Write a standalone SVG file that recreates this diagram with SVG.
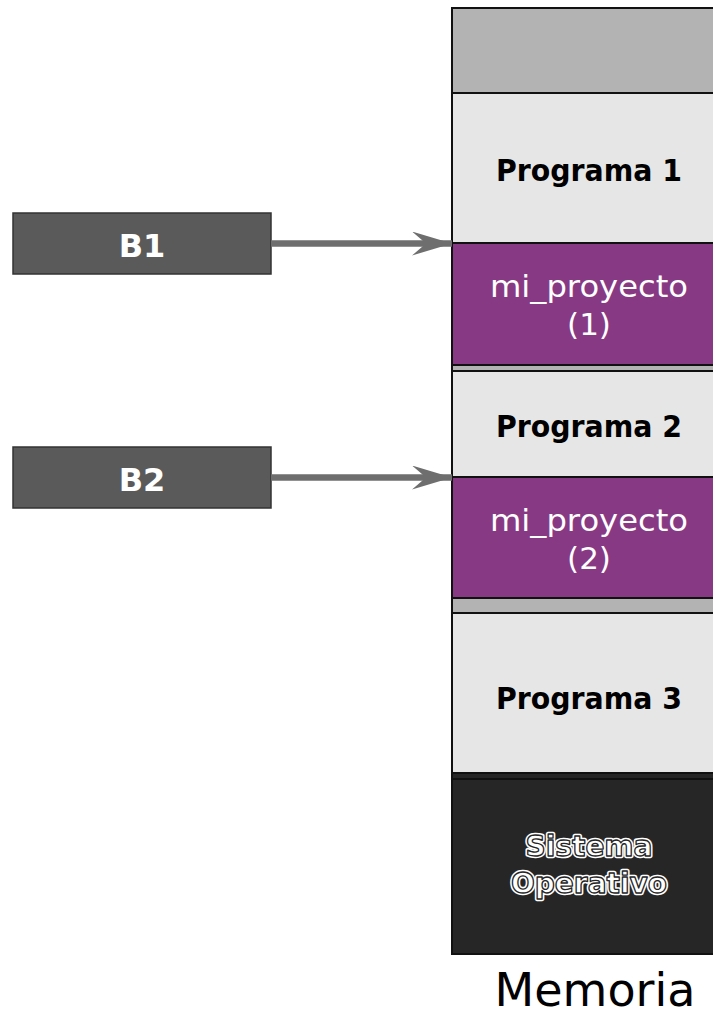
<svg xmlns="http://www.w3.org/2000/svg" width="713" height="1016" viewBox="0 0 713 1016">
  <style>
    .blk { stroke: #111; stroke-width: 2; }
    .free { fill: #b3b3b3; }
    .prog { fill: #e6e6e6; }
    .proj { fill: #873983; }
    .os { fill: #262626; }
    .lbl-prog { font-family: "DejaVu Sans", Verdana, sans-serif; font-weight: bold; font-size: 31px; fill: #000; text-anchor: middle; }
    .lbl-proj { font-family: "DejaVu Sans", Verdana, sans-serif; font-size: 31px; fill: #fff; text-anchor: middle; }
    .lbl-os-halo { font-family: "DejaVu Sans", Verdana, sans-serif; font-weight: bold; font-size: 28px; text-anchor: middle; fill: #fff; stroke: #fff; stroke-width: 4.5; stroke-linejoin: round; }
    .lbl-os { font-family: "DejaVu Sans", Verdana, sans-serif; font-weight: bold; font-size: 28px; text-anchor: middle; fill: #fff; stroke: #262626; stroke-width: 1.3; stroke-linejoin: round; }
    .buf { fill: #5a5a5a; stroke: #333; stroke-width: 1.5; }
    .lbl-buf { font-family: "DejaVu Sans", Verdana, sans-serif; font-weight: bold; font-size: 32px; fill: #fff; text-anchor: middle; }
    .wire { stroke: #6e6e6e; stroke-width: 6.5; fill: none; }
    .title { font-family: "DejaVu Sans", Verdana, sans-serif; font-size: 46px; fill: #000; text-anchor: middle; }
  </style>
  <defs>
    <marker id="head" viewBox="0 0 40 24" refX="40" refY="12" markerWidth="40" markerHeight="24" markerUnits="userSpaceOnUse" orient="auto">
      <path d="M0,0 L40,12 L0,24 L14,12 Z" fill="#6e6e6e"/>
    </marker>
  </defs>

  <rect width="713" height="1016" fill="#fff"/>

  <!-- memory column, top to bottom -->
  <g id="free-top">
    <rect class="blk free" x="452" y="8" width="280" height="85"/>
  </g>
  <g id="programa-1">
    <rect class="blk prog" x="452" y="93" width="280" height="150"/>
    <text class="lbl-prog" x="589" y="181" textLength="186" lengthAdjust="spacingAndGlyphs">Programa 1</text>
  </g>
  <g id="mi-proyecto-1">
    <rect class="blk proj" x="452" y="243" width="280" height="122"/>
    <text class="lbl-proj" x="589" y="297" textLength="198" lengthAdjust="spacingAndGlyphs">mi_proyecto</text>
    <text class="lbl-proj" x="589" y="335">(1)</text>
  </g>
  <g id="free-gap-1">
    <rect class="blk free" x="452" y="365" width="280" height="6"/>
  </g>
  <g id="programa-2">
    <rect class="blk prog" x="452" y="371" width="280" height="106"/>
    <text class="lbl-prog" x="589" y="437" textLength="186" lengthAdjust="spacingAndGlyphs">Programa 2</text>
  </g>
  <g id="mi-proyecto-2">
    <rect class="blk proj" x="452" y="477" width="280" height="121"/>
    <text class="lbl-proj" x="589" y="531" textLength="198" lengthAdjust="spacingAndGlyphs">mi_proyecto</text>
    <text class="lbl-proj" x="589" y="569">(2)</text>
  </g>
  <g id="free-gap-2">
    <rect class="blk free" x="452" y="598" width="280" height="15"/>
  </g>
  <g id="programa-3">
    <rect class="blk prog" x="452" y="613" width="280" height="160"/>
    <text class="lbl-prog" x="589" y="709" textLength="186" lengthAdjust="spacingAndGlyphs">Programa 3</text>
  </g>
  <g id="os-gap">
    <rect class="blk os" x="452" y="773" width="280" height="6"/>
  </g>
  <g id="sistema-operativo">
    <rect class="blk os" x="452" y="779" width="280" height="175"/>
    <text class="lbl-os-halo" x="589" y="856">Sistema</text>
    <text class="lbl-os-halo" x="589" y="893">Operativo</text>
    <text class="lbl-os" x="589" y="856">Sistema</text>
    <text class="lbl-os" x="589" y="893">Operativo</text>
  </g>
  <g id="memoria-title">
    <text class="title" x="595" y="1006">Memoria</text>
  </g>

  <!-- buffers -->
  <g id="b1">
    <rect class="buf" x="13" y="213" width="258" height="61"/>
    <text class="lbl-buf" x="142" y="257">B1</text>
  </g>
  <g id="b2">
    <rect class="buf" x="13" y="447" width="258" height="61"/>
    <text class="lbl-buf" x="142" y="491">B2</text>
  </g>

  <!-- pointers from buffers into memory -->
  <g id="connectors">
    <path class="wire" d="M271,243.5 H452" marker-end="url(#head)"/>
    <path class="wire" d="M271,477.5 H452" marker-end="url(#head)"/>
  </g>
</svg>
